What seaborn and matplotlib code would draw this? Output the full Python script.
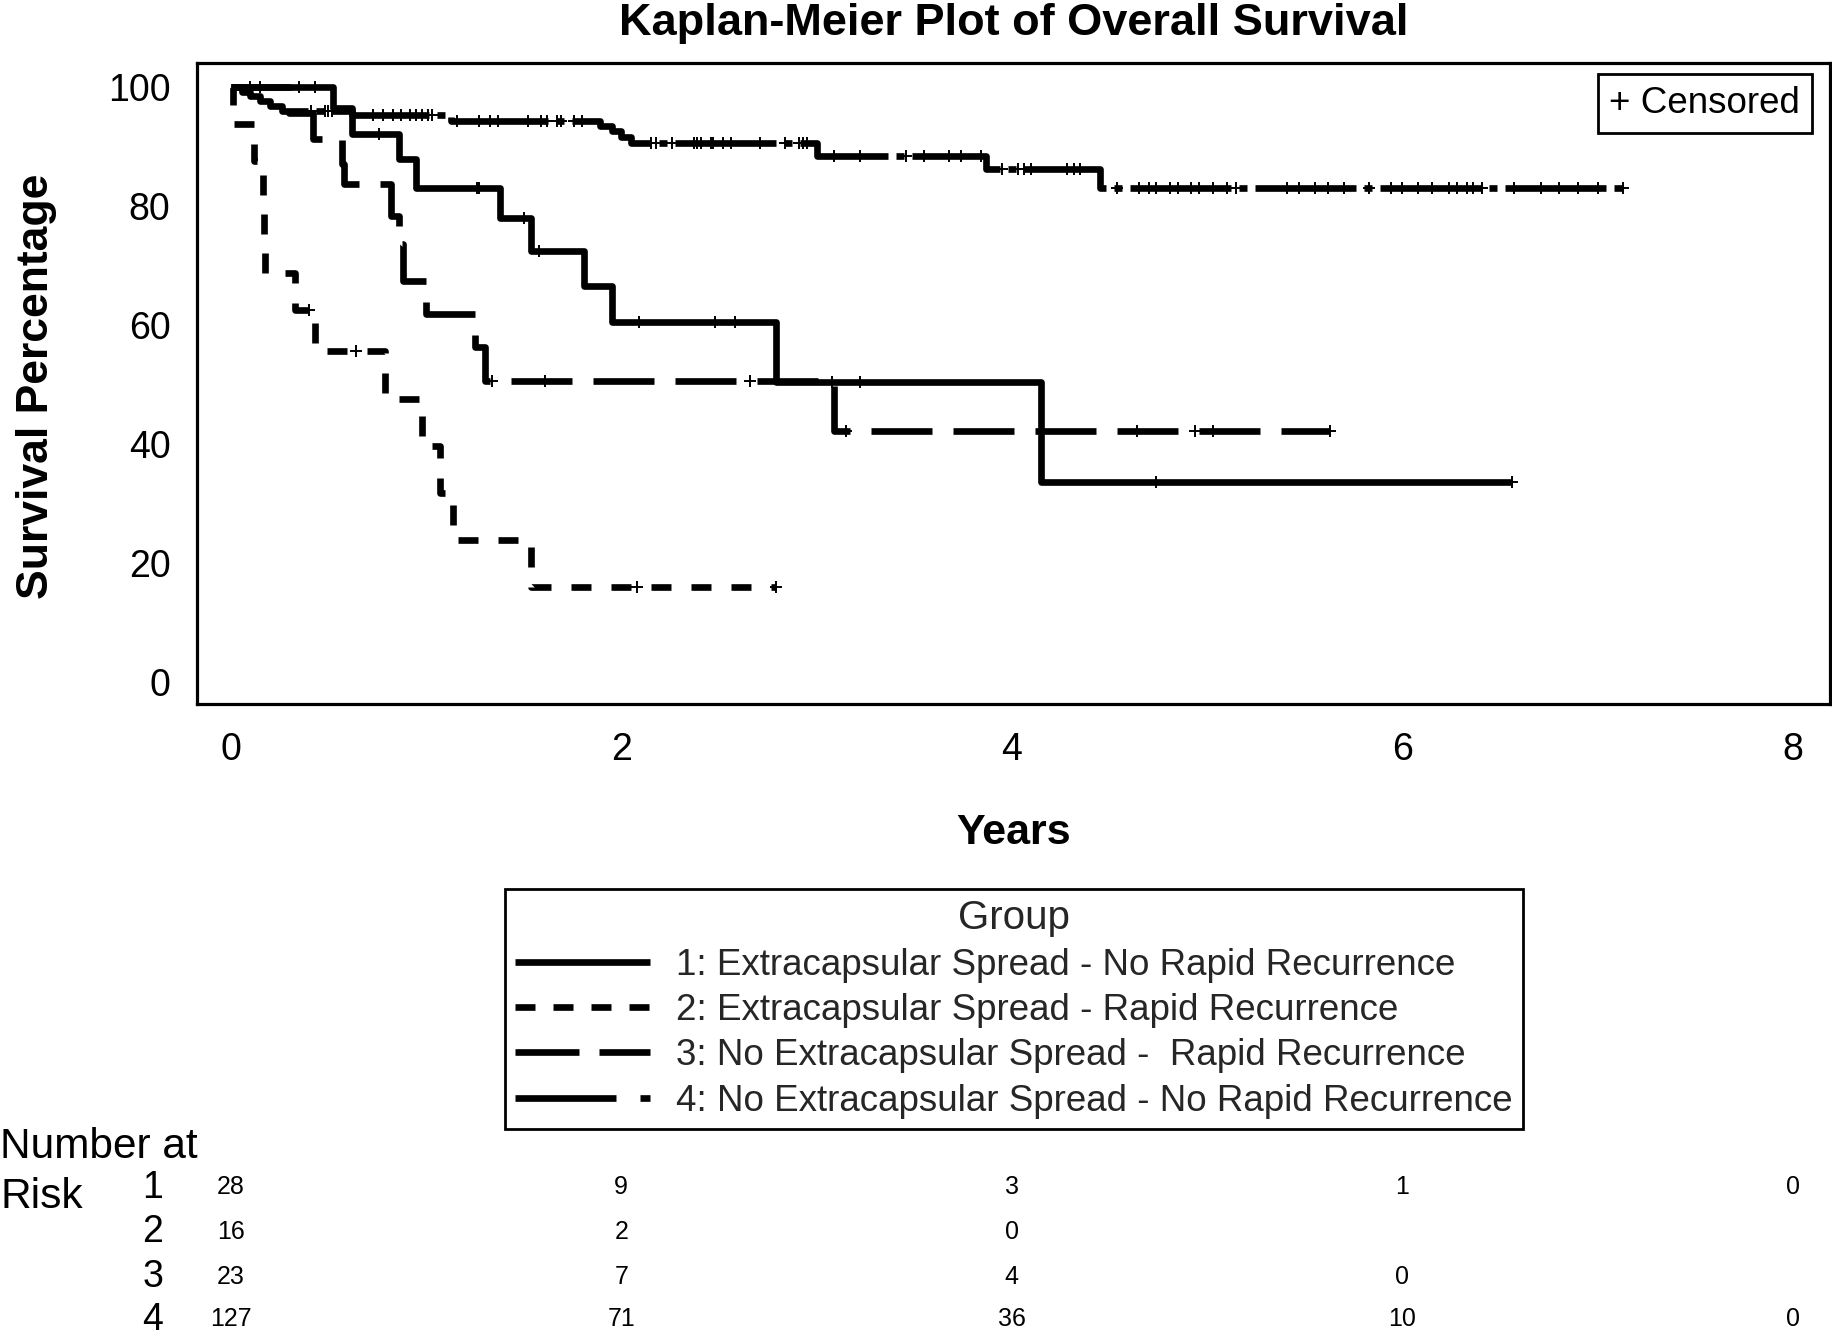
import numpy as np
import pandas as pd
import matplotlib
matplotlib.use("Agg")
import matplotlib.pyplot as plt
import seaborn as sns
from matplotlib.lines import Line2D
from matplotlib.transforms import blended_transform_factory

sns.set_theme(style="white")
plt.rcParams['font.family'] = ['Liberation Sans', 'DejaVu Sans']
plt.rcParams['lines.scale_dashes'] = False

# ---------------- data ----------------
title = "Kaplan-Meier Plot of Overall Survival"
x_label = "Years"
y_label = "Survival Percentage"
group_labels = [
    "1: Extracapsular Spread - No Rapid Recurrence",
    "2: Extracapsular Spread - Rapid Recurrence",
    "3: No Extracapsular Spread -  Rapid Recurrence",
    "4: No Extracapsular Spread - No Rapid Recurrence",
]
x_ticks = [0, 2, 4, 6, 8]
y_ticks = [0, 20, 40, 60, 80, 100]

# step times (years) and survival (%) after each step; last point = end of follow-up
g1_times = [0.0, 0.525, 0.62, 0.86, 0.95, 1.38, 1.54, 1.81, 1.95, 2.79, 4.15, 6.56]
g1_surv = [100, 96.4, 92.1, 87.8, 83.0, 78.0, 72.4, 66.5, 60.4, 50.3, 33.5, 33.5]
g1_cens = [0.10, 0.15, 0.35, 0.43, 0.76, 1.26, 1.27, 1.50, 1.58, 2.09, 2.48, 2.58,
           3.08, 3.22, 4.74, 6.56]

g2_times = [0.0, 0.01, 0.12, 0.165, 0.17, 0.175, 0.33, 0.43, 0.79, 0.98, 1.07, 1.14, 1.54, 2.79]
g2_surv = [100, 93.75, 87.5, 81.25, 75.0, 68.75, 62.5, 55.6, 47.6, 39.7, 31.7, 23.8, 15.9, 15.9]
g2_cens = [0.40, 0.64, 2.08, 2.79]

g3_times = [0.0, 0.30, 0.42, 0.57, 0.58, 0.82, 0.86, 0.88, 1.00, 1.25, 1.30, 3.09, 5.63]
g3_surv = [100, 95.65, 91.3, 87.0, 83.6, 78.3, 73.5, 67.4, 61.8, 56.2, 50.5, 42.1, 42.1]
g3_cens = [1.34, 1.61, 2.66, 3.15, 4.64, 4.94, 5.03, 5.63]

g4_times = [0.0, 0.06, 0.10, 0.15, 0.20, 0.26, 0.62, 1.13, 1.89, 1.95, 2.00, 2.05,
            3.00, 3.87, 4.45, 7.13]
g4_surv = [100, 99.2, 98.4, 97.6, 96.8, 96.0, 95.2, 94.3, 93.4, 92.5, 91.5, 90.5,
           88.4, 86.1, 83.0, 83.0]
g4_cens = [0.41, 0.48, 0.50, 0.52, 0.73, 0.78, 0.83, 0.87, 0.92, 0.95, 0.98, 1.01, 1.03,
           1.16, 1.27, 1.33, 1.37, 1.52, 1.59, 1.62, 1.67, 1.69, 1.76, 1.80, 2.15, 2.18,
           2.26, 2.37, 2.39, 2.41, 2.46, 2.47, 2.52, 2.56, 2.71, 2.84, 2.91, 2.93, 2.95,
           3.09, 3.22, 3.46, 3.55, 3.68, 3.74, 3.84, 3.95, 4.03, 4.06, 4.10, 4.28, 4.32,
           4.35, 4.54, 4.65, 4.70, 4.74, 4.81, 4.85, 4.92, 4.96, 5.03, 5.10, 5.15, 5.41,
           5.47, 5.55, 5.62, 5.70, 5.83, 5.94, 6.00, 6.08, 6.15, 6.24, 6.28, 6.33, 6.36,
           6.41, 6.57, 6.71, 6.80, 6.90, 7.00, 7.13]

risk_times = [0, 2, 4, 6, 8]
risk_g1 = [28, 9, 3, 1, 0]
risk_g2 = [16, 2, 0, None, None]
risk_g3 = [23, 7, 4, 0, None]
risk_g4 = [127, 71, 36, 10, 0]

# ---------------- styles ----------------
PX = 0.72  # px -> pt at 100 dpi
line_styles = [
    '-',
    (0, (20 * PX, 20 * PX)),
    (0, (61 * PX, 21 * PX)),
    (0, (101 * PX, 8 * PX, 8 * PX, 8 * PX)),
]
legend_styles = [
    '-',
    (0, (20 * PX, 18 * PX)),
    (0, (64 * PX, 20 * PX)),
    (0, (101 * PX, 24 * PX, 10 * PX, 24 * PX)),
]
LW = 4.8

W, H = 1833, 1337
fig = plt.figure(figsize=(W / 100, H / 100), dpi=100)
fig.patch.set_facecolor('white')
ax_l, ax_r, ax_t, ax_b = 197, 1830, 63, 704
ax = fig.add_axes([ax_l / W, 1 - ax_b / H, (ax_r - ax_l) / W, (ax_b - ax_t) / H])

groups = [
    (g1_times, g1_surv, g1_cens),
    (g2_times, g2_surv, g2_cens),
    (g3_times, g3_surv, g3_cens),
    (g4_times, g4_surv, g4_cens),
]

for i, (t, s, c) in enumerate(groups):
    df = pd.DataFrame({'time': t, 'surv': s})
    sns.lineplot(data=df, x='time', y='surv', drawstyle='steps-post', estimator=None,
                 sort=False, color='black', lw=LW, linestyle=line_styles[i],
                 ax=ax, legend=False, solid_capstyle='butt', dash_capstyle='butt')
    tt = np.asarray(t)
    ss = np.asarray(s)
    idx = np.searchsorted(tt, np.asarray(c), side='right') - 1
    cdf = pd.DataFrame({'time': c, 'surv': ss[idx]})
    sns.scatterplot(data=cdf, x='time', y='surv', marker='+', s=80, color='black',
                    linewidth=1.4, ax=ax, legend=False, zorder=4)

ax.set_xlim(-0.173, 8.19)
ax.set_ylim(-3.75, 104.0)
ax.set_xticks(x_ticks)
ax.set_yticks(y_ticks)
ax.set_xticklabels([str(v) for v in x_ticks])
ax.set_yticklabels([str(v) for v in y_ticks])
ax.set_xlabel('')
ax.set_ylabel('')
for sp in ax.spines.values():
    sp.set_visible(True)
    sp.set_color('black')
    sp.set_linewidth(2.3)
ax.tick_params(axis='both', which='major', direction='out', length=11.5, width=2.3,
               color='black', labelsize=27, labelcolor='black')
ax.tick_params(axis='x', pad=9)
ax.tick_params(axis='y', pad=7.5)
ax.grid(False)

# titles / labels
cx = (ax_l + ax_r) / 2 / W
fig.text(cx, 1 - 35 / H, title, ha='center', va='baseline', fontsize=32.5,
         fontweight='bold', color='black')
fig.text(cx, 1 - 844 / H, x_label, ha='center', va='baseline', fontsize=31,
         fontweight='bold', color='black')
fig.text(37 / W, 1 - 386 / H, y_label, ha='center', va='center', rotation=90,
         fontsize=32, fontweight='bold', color='black')

# censored box
ax.text(0.9818, 0.9368, "+ Censored", transform=ax.transAxes, ha='right', va='center',
        fontsize=26.5, color='black',
        bbox=dict(boxstyle='square,pad=0.32', fc='white', ec='black', lw=2.0))

# group legend
handles = [Line2D([], [], color='black', lw=LW, linestyle=legend_styles[i],
                  solid_capstyle='butt', dash_capstyle='butt') for i in range(4)]
leg = fig.legend(handles, group_labels, title='Group', loc='center',
                 bbox_to_anchor=(1014 / W, 1 - 1009 / H), fontsize=26.5,
                 title_fontsize=29, frameon=True, fancybox=False, edgecolor='black',
                 handlelength=3.65, handletextpad=0.72, labelspacing=0.28,
                 borderpad=0.28, framealpha=1)
leg.get_frame().set_linewidth(2.0)

# number at risk table
trans = blended_transform_factory(ax.transData, fig.transFigure)
fig.text(0 / W, 1 - 1158 / H, "Number at", ha='left', va='baseline', fontsize=30.5,
         color='black')
fig.text(0 / W, 1 - 1208 / H, "Risk", ha='left', va='baseline', fontsize=30.5,
         color='black')
row_centers = [1186, 1230.5, 1275, 1318]
risk_rows = [risk_g1, risk_g2, risk_g3, risk_g4]
for r, (yc, vals) in enumerate(zip(row_centers, risk_rows)):
    fig.text(153 / W, 1 - (yc + 12) / H, str(r + 1), ha='center', va='baseline',
             fontsize=27, color='black')
    for tx, v in zip(risk_times, vals):
        if v is None:
            continue
        fig.text(tx, 1 - (yc + 8.5) / H, str(v), ha='center', va='baseline',
                 fontsize=18, color='black', transform=trans)

fig.savefig('out.png', dpi=100, facecolor='white')
